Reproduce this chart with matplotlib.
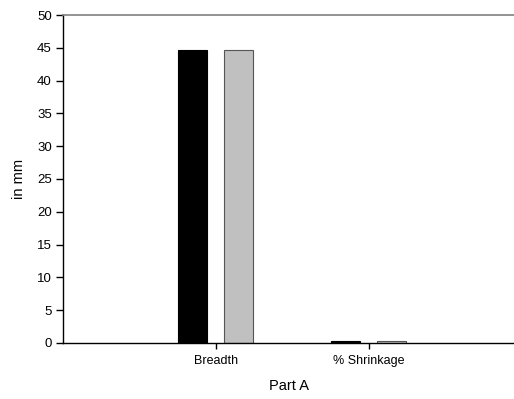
import numpy as np
import matplotlib
matplotlib.use("Agg")
import matplotlib.pyplot as plt

plt.rcParams["font.family"] = ["Liberation Sans", "DejaVu Sans"]

categories = ["Breadth", "% Shrinkage"]
series_a = [44.6, 0.3]
series_b = [44.6, 0.3]

fig = plt.figure(figsize=(5.14, 3.99), dpi=100)
ax = fig.add_axes([0.1226, 0.1404, 0.8774, 0.822])

x = np.arange(len(categories))
ax.bar(x - 0.15, series_a, width=0.19, color="black", edgecolor="black", linewidth=0.8)
ax.bar(x + 0.15, series_b, width=0.19, color="#c0c0c0", edgecolor="#555555", linewidth=0.8)

ax.set_xlim(-1, 1.95)
ax.set_ylim(0, 50)
ax.set_yticks(np.arange(0, 51, 5))
ax.set_xticks(x)
ax.set_xticklabels(categories)

ax.spines["right"].set_visible(False)
ax.spines["top"].set_color("#808080")
ax.spines["top"].set_linewidth(1.2)
ax.spines["left"].set_linewidth(1.0)
ax.spines["bottom"].set_linewidth(1.0)

ax.tick_params(axis="y", direction="out", length=5, width=1, labelsize=9.5, pad=3)
ax.tick_params(axis="x", direction="out", length=4, width=1, labelsize=9, pad=5)

ax.set_ylabel("in mm", fontsize=10.5, labelpad=8)
ax.set_xlabel("Part A", fontsize=10.5, labelpad=8)

fig.savefig("out.png", dpi=100)
